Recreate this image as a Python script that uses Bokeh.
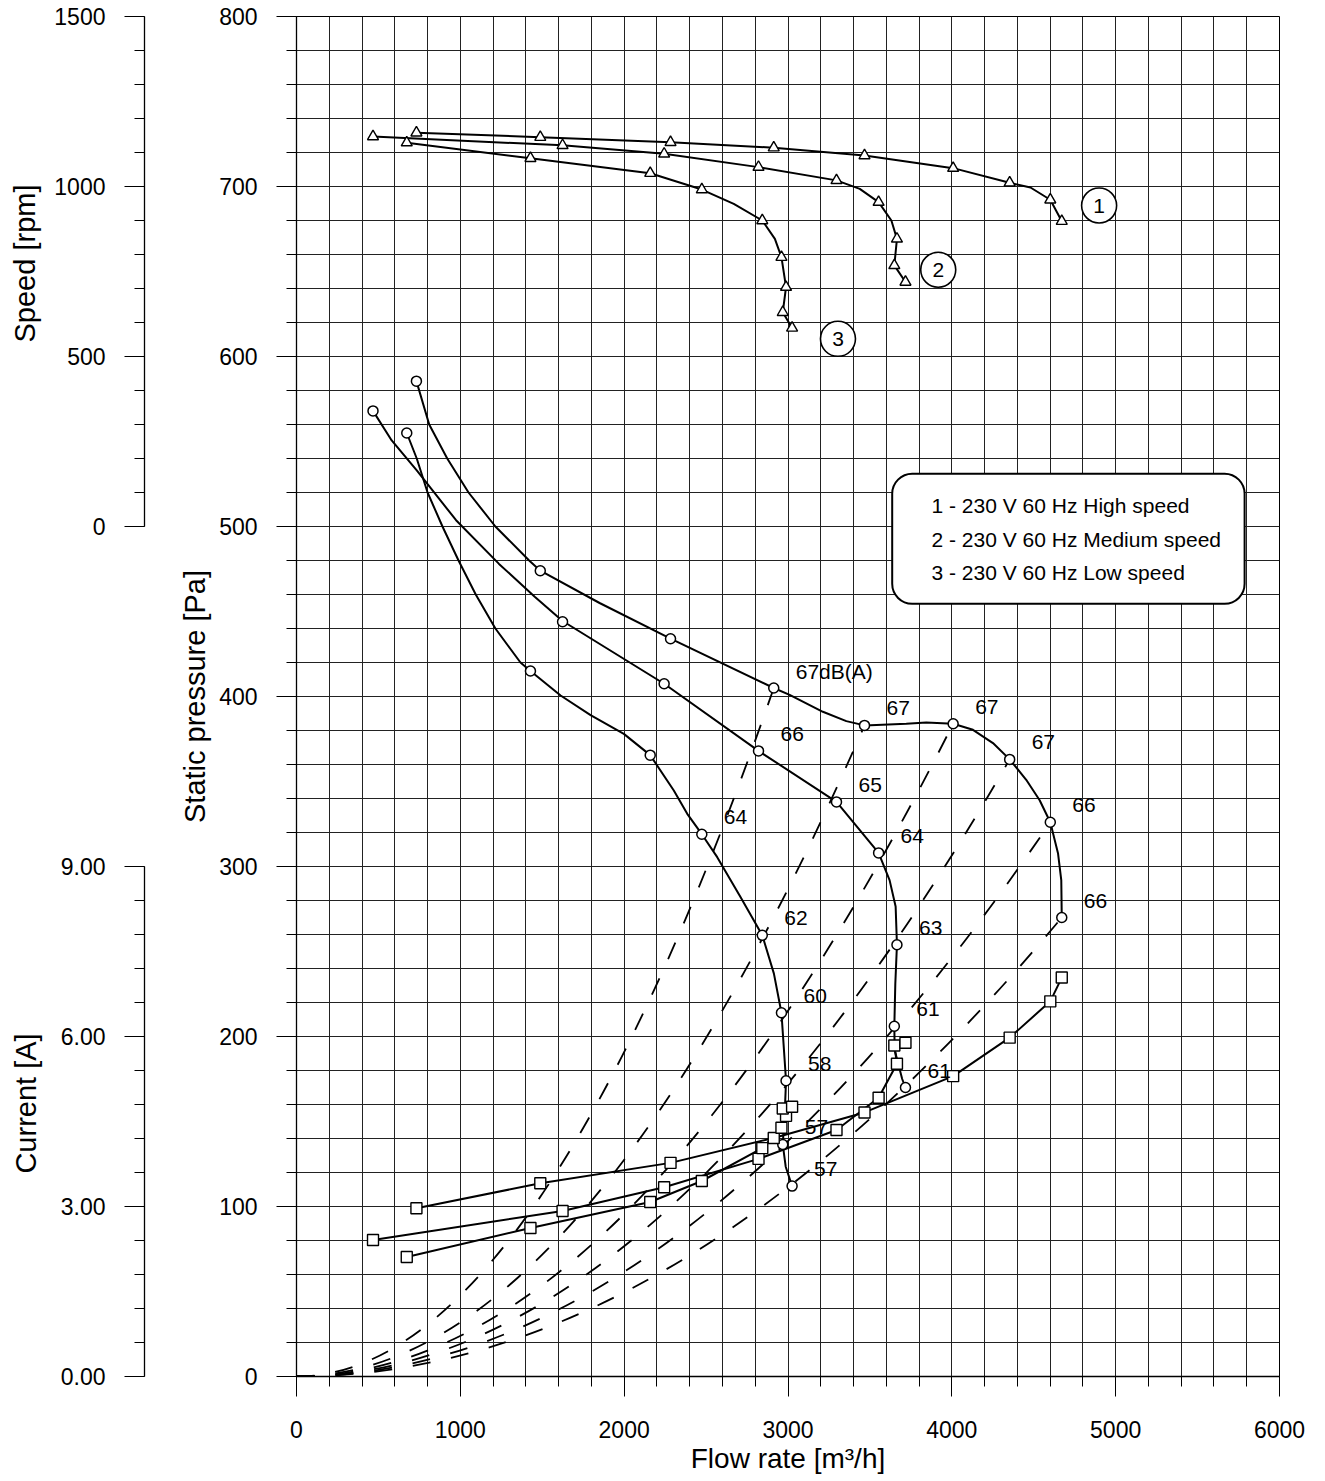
from bokeh.plotting import figure
from bokeh.layouts import row, column
from bokeh.models import (Range1d, SingleIntervalTicker, NumeralTickFormatter,
                          BoxAnnotation, Label, ColumnDataSource)
from bokeh.core.properties import value
from bokeh.embed import file_html
from bokeh.resources import INLINE

FONT = "Liberation Sans"

# ---------------- data ----------------
curve_names = ["1 - 230 V 60 Hz High speed",
               "2 - 230 V 60 Hz Medium speed",
               "3 - 230 V 60 Hz Low speed"]
curve_tags = ["1", "2", "3"]

# operating points (flow rate m3/h)
flow_1 = [732, 1488, 2283, 2913, 3467, 4008, 4353, 4601, 4671]
flow_2 = [467, 1624, 2244, 2820, 3296, 3553, 3665, 3649, 3717]
flow_3 = [673, 1428, 2159, 2474, 2843, 2960, 2988, 2968, 3025]

# static pressure [Pa]
pressure_1 = [585.5, 474, 434, 405, 383, 384, 363, 326, 270]
pressure_2 = [568, 444, 407.5, 368, 338, 308, 254, 206, 170]
pressure_3 = [555, 415, 365.5, 319, 259.5, 214, 174, 136.5, 112]

# speed [rpm]
speed_1 = [1158, 1145, 1130, 1114, 1091, 1054, 1011, 961, 898]
speed_2 = [1147, 1121, 1096, 1057, 1018, 954, 846, 768, 719]
speed_3 = [1129, 1083, 1039, 991, 900, 792, 704, 630, 584]

# current [A]
current_1 = [2.97, 3.41, 3.77, 4.21, 4.66, 5.30, 5.98, 6.62, 7.04]
current_2 = [2.41, 2.92, 3.34, 3.84, 4.35, 4.92, 5.52, 5.84, 5.89]
current_3 = [2.11, 2.62, 3.08, 3.45, 4.03, 4.39, 4.60, 4.73, 4.76]

# sound levels written at operating points 4..9 of each curve
noise_1 = ["67dB(A)", "67", "67", "67", "66", "66"]
noise_2 = ["66", "65", "64", "63", "61", "61"]
noise_3 = ["64", "62", "60", "58", "57", "57"]

# traces of the drawn solid curves (markers plus points)
p_trace_1_q = [732, 810, 920, 1050, 1214, 1420, 1488, 1850, 2283, 2913, 3010, 3213,
               3356, 3467, 3722, 3844, 4008, 4129, 4251, 4353, 4454, 4536, 4601,
               4648, 4668, 4671]
p_trace_1 = [585.5, 560, 540, 520, 500, 480, 474, 455, 434, 405, 401, 391,
             385.5, 383, 384, 384.7, 384, 380.4, 372.6, 363, 351, 339, 326,
             307.8, 292, 270]
p_trace_2_q = [467, 581, 734, 974, 1236, 1454, 1624, 2244, 2820, 3296, 3553, 3620,
               3657, 3665, 3655, 3649, 3651, 3697, 3717]
p_trace_2 = [568, 550.6, 533, 503.7, 478, 458.7, 444.4, 407.5, 368, 338, 308, 292,
             276.5, 254, 231, 206, 192, 175, 170]
p_trace_3_q = [673, 734, 800, 891, 989, 1094, 1214, 1367, 1428, 1612, 1795, 1998,
               2159, 2303, 2385, 2474, 2568, 2710, 2843, 2914, 2960, 2988, 2980,
               2968, 2986, 3025]
p_trace_3 = [555, 540, 520, 500, 480, 460, 440, 420, 415, 400.6, 389, 378,
             365.5, 344.7, 331, 319, 305.5, 282, 259.5, 237, 214, 174, 155,
             136.5, 123.4, 112]

s_trace_1_q = [732, 1488, 2283, 2913, 3467, 4008, 4353, 4480, 4601, 4671]
s_trace_1 = [1158, 1145, 1130, 1114, 1091, 1054, 1011, 997, 961, 898]
s_trace_2_q = [467, 1624, 2244, 2820, 3296, 3438, 3553, 3631, 3665, 3649, 3717]
s_trace_2 = [1147, 1121, 1096, 1057, 1018, 993, 954, 900, 846, 768, 719]
s_trace_3_q = [673, 1428, 2159, 2474, 2669, 2843, 2920, 2960, 2988, 2968, 3025]
s_trace_3 = [1129, 1083, 1039, 991, 949, 900, 846, 792, 704, 630, 584]

# annotation anchors (data units of the main chart)
tag_flow = [4899, 3917, 3305]
tag_pressure = [688.8, 651, 610.4]
legend_flow = 3876
legend_pressure = [512.5, 492.2, 473.2]
legend_box = dict(left=3636, right=5787, top=531, bottom=454.5)

# ---------------- main chart ----------------
main = figure(frame_width=983, frame_height=1360,
              x_range=Range1d(0, 6000), y_range=Range1d(0, 800),
              output_backend="svg", toolbar_location=None,
              min_border_left=150, min_border_right=30,
              min_border_top=16, min_border_bottom=100,
              background_fill_color="white", border_fill_color="white")
main.extra_y_ranges = {"speed": Range1d(-2500, 1500), "current": Range1d(0, 24)}
main.outline_line_color = "black"
main.outline_line_width = 1

xt = SingleIntervalTicker(interval=1000, num_minor_ticks=5)
yt = SingleIntervalTicker(interval=100, num_minor_ticks=5)
main.xaxis.ticker = xt
main.yaxis.ticker = yt
main.xgrid.ticker = xt
main.ygrid.ticker = yt
for g in (main.xgrid[0], main.ygrid[0]):
    g.grid_line_color = "#222222"
    g.grid_line_width = 1
    g.minor_grid_line_color = "#222222"
    g.minor_grid_line_width = 1

main.xaxis.axis_label = "Flow rate [m³/h]"
main.yaxis.axis_label = "Static pressure [Pa]"


def style_axis(ax, standoff):
    ax.major_tick_out = 20
    ax.major_tick_in = 0
    ax.minor_tick_out = 10
    ax.minor_tick_in = 0
    ax.major_label_standoff = 19
    ax.axis_label_standoff = standoff
    ax.major_label_text_font = FONT
    ax.major_label_text_font_size = "23px"
    ax.major_label_text_color = "black"
    ax.axis_label_text_font = FONT
    ax.axis_label_text_font_size = "29px"
    ax.axis_label_text_font_style = "normal"
    ax.axis_label_text_color = "black"
    ax.axis_line_color = "black"
    ax.axis_line_width = 1.3
    ax.major_tick_line_color = "black"
    ax.minor_tick_line_color = "black"


style_axis(main.yaxis[0], 5)
style_axis(main.xaxis[0], 2)
main.xaxis[0].major_label_standoff = 24
main.xaxis[0].axis_label_text_font_size = "28px"

# dashed system curves (parabolas from the origin) through the labelled points of curve 1
sys_q = flow_1[3:]
sys_p = pressure_1[3:]
sys_src = ColumnDataSource(dict(x0=[0] * len(sys_q), y0=[0] * len(sys_q),
                                x1=sys_q, y1=sys_p,
                                cx=[q / 2 for q in sys_q], cy=[0] * len(sys_q)))
main.quadratic(x0="x0", y0="y0", x1="x1", y1="y1", cx="cx", cy="cy",
               source=sys_src, line_color="black", line_width=1.8,
               line_dash="18 21")

# solid curves
for q, v in ((p_trace_1_q, p_trace_1), (p_trace_2_q, p_trace_2), (p_trace_3_q, p_trace_3)):
    main.line(q, v, line_color="black", line_width=2)
for q, v in ((s_trace_1_q, s_trace_1), (s_trace_2_q, s_trace_2), (s_trace_3_q, s_trace_3)):
    main.line(q, v, line_color="black", line_width=2, y_range_name="speed")
for q, v in ((flow_1, current_1), (flow_2, current_2), (flow_3, current_3)):
    main.line(q, v, line_color="black", line_width=2, y_range_name="current")

# markers
for q, v in ((flow_1, pressure_1), (flow_2, pressure_2), (flow_3, pressure_3)):
    main.scatter(q, v, marker="circle", size=10, fill_color="white",
                 line_color="black", line_width=1.5)
for q, v in ((flow_1, speed_1), (flow_2, speed_2), (flow_3, speed_3)):
    main.scatter(q, v, marker="triangle", size=11, fill_color="white",
                 line_color="black", line_width=1.4, y_range_name="speed")
for q, v in ((flow_1, current_1), (flow_2, current_2), (flow_3, current_3)):
    main.scatter(q, v, marker="square", size=11, fill_color="white",
                 line_color="black", line_width=1.4, y_range_name="current")

# sound level labels
lab_q = flow_1[3:] + flow_2[3:] + flow_3[3:]
lab_p = pressure_1[3:] + pressure_2[3:] + pressure_3[3:]
main.text(x=lab_q, y=lab_p, text=noise_1 + noise_2 + noise_3,
          x_offset=22, y_offset=-17, text_align="left", text_baseline="middle",
          text_font=value(FONT), text_font_size="21px", text_color="black")

# circled curve numbers
main.scatter(tag_flow, tag_pressure, marker="circle", size=35, fill_color="white",
             line_color="black", line_width=1.6)
main.text(x=tag_flow, y=tag_pressure, text=curve_tags, text_align="center",
          text_baseline="middle", text_font=value(FONT), text_font_size="21px",
          text_color="black")

# legend box
main.add_layout(BoxAnnotation(**legend_box, fill_color="white", fill_alpha=1.0,
                              line_color="black", line_width=2, line_alpha=1.0,
                              border_radius=20))
for name, yy in zip(curve_names, legend_pressure):
    main.add_layout(Label(x=legend_flow, y=yy, text=name, text_align="left",
                          text_baseline="middle", text_font=FONT,
                          text_font_size="21px", text_color="black"))

# ---------------- secondary axes (speed and current) ----------------
# speed axis: 0..1500 rpm over 510 px; frame extended to the page top
speed_fig = figure(frame_width=2, frame_height=526, x_range=Range1d(0, 1),
                   y_range=Range1d(0, 1500 * 526 / 510), output_backend="svg",
                   toolbar_location=None, x_axis_location=None,
                   min_border_left=144, min_border_right=0,
                   min_border_top=0, min_border_bottom=289,
                   outline_line_color=None)
speed_fig.grid.visible = False
speed_fig.yaxis.ticker = SingleIntervalTicker(interval=500, num_minor_ticks=5)
speed_fig.yaxis.bounds = (0, 1500)
speed_fig.yaxis.axis_label = "Speed [rpm]"
style_axis(speed_fig.yaxis[0], 10)

# current axis: 0..9 A over 510 px; frame extended upwards by 36 px
current_fig = figure(frame_width=2, frame_height=546, x_range=Range1d(0, 1),
                     y_range=Range1d(0, 9 * 546 / 510), output_backend="svg",
                     toolbar_location=None, x_axis_location=None,
                     min_border_left=144, min_border_right=0,
                     min_border_top=15, min_border_bottom=90,
                     outline_line_color=None)
current_fig.grid.visible = False
current_fig.yaxis.ticker = SingleIntervalTicker(interval=3, num_minor_ticks=5)
current_fig.yaxis.bounds = (0, 9)
current_fig.yaxis.formatter = NumeralTickFormatter(format="0.00")
current_fig.yaxis.axis_label = "Current [A]"
style_axis(current_fig.yaxis[0], 16)

layout = row(column(speed_fig, current_fig), main)

with open("out.html", "w") as f:
    f.write(file_html(layout, INLINE))
